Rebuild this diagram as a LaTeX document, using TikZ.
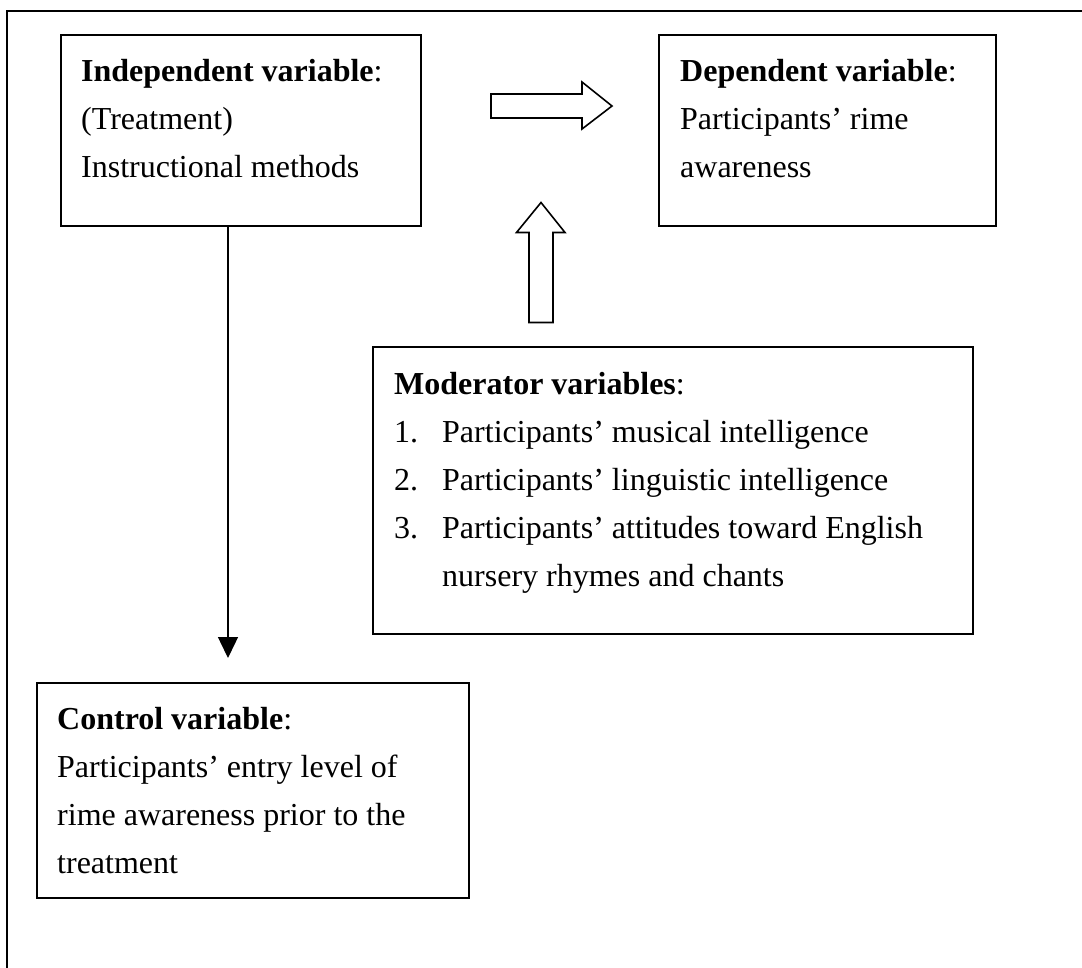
\documentclass[tikz,border=0pt]{standalone}
\usepackage{fontspec}
\setmainfont{Liberation Serif}
\usetikzlibrary{arrows.meta}
\begin{document}
\begin{tikzpicture}[x=1pt,y=-1pt,
  box/.style={draw=black, line width=1.6pt, inner sep=0pt, rectangle},
  txt/.style={anchor=north west, inner sep=0pt, font=\fontsize{32}{48}\selectfont, align=left},
  blockarrow/.style={draw=black, fill=white, line width=1.6pt, line join=miter},
  conn/.style={draw=black, line width=1.4pt, -{Triangle[width=20pt,length=21pt]}}]
\useasboundingbox (0,0) rectangle (1082,967);
% outer frame (top and left edges)
\draw[line width=2.4pt] (7,975) -- (7,11) -- (1090,11);
% boxes
\node[box, minimum width=360pt, minimum height=191pt] (ind) at (241,130.5) {};
\node[box, minimum width=337pt, minimum height=191pt] (dep) at (827.5,130.5) {};
\node[box, minimum width=600pt, minimum height=287pt] (mod) at (673,490.5) {};
\node[box, minimum width=432pt, minimum height=215pt] (ctl) at (253,790.5) {};
% texts
\node[txt] (indtext) at (81,47.4) {\begin{tabular}{@{}l@{}}\textbf{Independent variable}:\\(Treatment)\\Instructional methods\end{tabular}};
\node[txt] (deptext) at (680,47.4) {\begin{tabular}{@{}l@{}}\textbf{Dependent variable}:\\Participants’ rime\\awareness\end{tabular}};
\node[txt] (modtext) at (394,360.4) {\begin{tabular}{@{}p{48pt}@{}l@{}}\multicolumn{2}{@{}l@{}}{\textbf{Moderator variables}:}\\
1. & Participants’ musical intelligence\\
2. & Participants’ linguistic intelligence\\
3. & Participants’ attitudes toward English\\
 & nursery rhymes and chants\end{tabular}};
\node[txt] (ctltext) at (57,695.4) {\begin{tabular}{@{}l@{}}\textbf{Control variable}:\\Participants’ entry level of\\rime awareness prior to the\\treatment\end{tabular}};
% block arrows
\draw[blockarrow] (491,94) -- (582,94) -- (582,82) -- (612,106) -- (582,129) -- (582,118) -- (491,118) -- cycle;
\draw[blockarrow] (529,322.5) -- (529,232.5) -- (516.5,232.5) -- (541,202.5) -- (565,232.5) -- (553,232.5) -- (553,322.5) -- cycle;
% connector
\coordinate (ctltip) at (228,658);
\draw[conn] (ind.south -| ctltip) -- (ctltip);
\end{tikzpicture}
\end{document}
